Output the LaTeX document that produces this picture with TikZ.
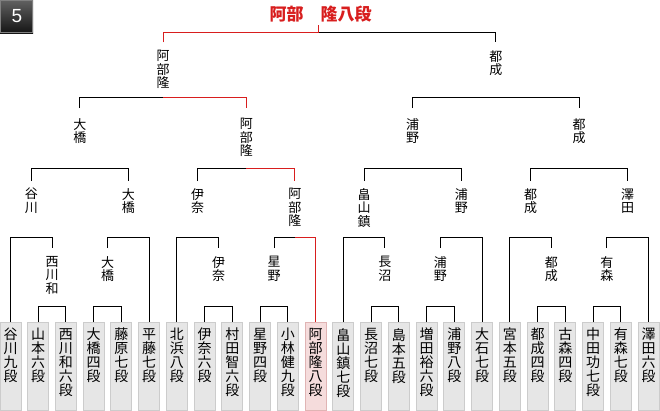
\documentclass[tikz,border=0pt]{standalone}
\usepackage{fontspec}
\usetikzlibrary{calc}
\newfontfamily\cjk{Noto Sans CJK JP}
\newfontfamily\lsans{Liberation Sans}
\definecolor{win}{HTML}{D81E1E}
\definecolor{boxfill}{HTML}{E6E6E6}
\definecolor{boxline}{HTML}{CCCCCC}
\definecolor{redfill}{HTML}{F5DCDC}
\definecolor{redline}{HTML}{E0B4B4}
\def\vstackA#1{\ifx#1\relax\else\hbox to 2em{\hss#1\hss}\expandafter\vstackA\fi}
\newcommand\vstack[1]{\vbox{\lineskiplimit=-20pt\expandafter\vstackA#1\relax}}
\begin{document}
\begin{tikzpicture}[x=1pt,y=-1pt,
  ln/.style={line width=1pt, draw=black},
  rl/.style={line width=1pt, draw=win},
  pbox/.style={draw=boxline, fill=boxfill, line width=1pt, minimum width=21pt, minimum height=88pt, anchor=north, inner sep=0pt, outer sep=0pt},
  rbox/.style={pbox, draw=redline, fill=redfill},
  bname/.style={font=\cjk\fontsize{14}{14}\selectfont, anchor=north, inner sep=0pt},
  wname/.style={font=\cjk\fontsize{13}{13.5}\selectfont, anchor=north, inner sep=0pt},
  champ/.style={font=\cjk\bfseries\fontsize{17}{17}\selectfont, text=win, inner sep=0pt}]
\fill[white] (0,0) rectangle (660,410);
\useasboundingbox (0,0) rectangle (660,410);
% badge
\shade[top color=black!62, bottom color=black!92] (0,0) rectangle (33,33);
\draw[black!50, line width=1pt] (0.5,0.5) rectangle (32.5,32.5);
\node[text=white, font=\lsans\fontsize{19}{19}\selectfont, inner sep=0pt] (badge) at (16.8,16.3) {5};
% level lines
\coordinate (h1) at (0,306.5);
\coordinate (h2) at (0,237.5);
\coordinate (h3) at (0,168.5);
\coordinate (h4) at (0,97.5);
\coordinate (h5) at (0,32.5);
\foreach \g/\bl/\wa/\wb/\va/\vb/\uu in {
 0/{谷川九段,山本六段,西川和六段,大橋四段,藤原七段,平藤七段}/西川和/大橋/谷川/大橋/大橋,
 1/{北浜八段,伊奈六段,村田智六段,星野四段,小林健九段,阿部隆八段}/伊奈/星野/伊奈/阿部隆/阿部隆,
 2/{畠山鎮七段,長沼七段,島本五段,増田裕六段,浦野八段,大石七段}/長沼/浦野/畠山鎮/浦野/浦野,
 3/{宮本五段,都成四段,古森四段,中田功七段,有森七段,澤田六段}/都成/有森/都成/澤田/都成}
{
  \pgfmathsetmacro\ox{10.5+166.44*\g}
  \foreach \nm [count=\k from 0] in \bl {
    \ifnum\g\k=15 \tikzset{cur/.style=rbox}\else\tikzset{cur/.style=pbox}\fi
    \node[cur] (b\g\k) at (\ox+27.74*\k, 322) {};
    \node[bname] (bt\g\k) at ($(b\g\k.north)+(0,6)$) {\vstack{\nm}};
  }
  \node[wname] (wA\g) at (\ox+41.61, 256) {\vstack{\wa}};
  \node[wname] (wB\g) at (\ox+97.09, 256) {\vstack{\wb}};
  \node[wname] (vA\g) at (\ox+20.805, 188) {\vstack{\va}};
  \node[wname] (vB\g) at (\ox+117.895, 188) {\vstack{\vb}};
  \node[wname] (u\g) at (\ox+69.35, 118) {\vstack{\uu}};
  \coordinate (wAt\g) at ($(wA\g.north)+(0,-8)$);
  \coordinate (wBt\g) at ($(wB\g.north)+(0,-8)$);
  \coordinate (vAt\g) at ($(vA\g.north)+(0,-7)$);
  \coordinate (vBt\g) at ($(vB\g.north)+(0,-7)$);
  \coordinate (ut\g) at ($(u\g.north)+(0,-10)$);
  % level 1
  \draw[ln] (b\g1.north) -- (b\g1.north |- h1) -| (b\g2.north);
  \draw[ln] (b\g3.north) -- (b\g3.north |- h1) -| (b\g4.north);
  % level 2
  \draw[ln] (b\g0.north) -- (b\g0.north |- h2) -| (wAt\g);
  \draw[ln] (wBt\g) -- (wBt\g |- h2) -| (b\g5.north);
  % level 3
  \draw[ln] (vAt\g) -- (vAt\g |- h3) -| (vBt\g);
}
% level 4 and 5
\node[wname] (s0) at (163.07,50) {\vstack{阿部隆}};
\node[wname] (s1) at (495.95,50) {\vstack{都成}};
\coordinate (s0t) at ($(s0.north)+(0,-8)$);
\coordinate (s1t) at ($(s1.north)+(0,-8)$);
\draw[ln] (ut0) -- (ut0 |- h4) -| (ut1);
\draw[ln] (ut2) -- (ut2 |- h4) -| (ut3);
\node[champ] (champ) at (320.5,14.5) {阿部　隆八段};
\coordinate (cb) at (318,25);
\draw[ln] (s0t) -- (s0t |- h5) -| (s1t);
% winner path
\draw[rl] (vB1.north |- h2) -| (b15.north);
\draw[rl] (u1.north |- h3) -| (vBt1);
\draw[rl] (s0.north |- h4) -| (ut1);
\draw[rl] (s0t) -- (s0t |- h5) -- (cb |- h5) -- (cb);
\end{tikzpicture}
\end{document}
